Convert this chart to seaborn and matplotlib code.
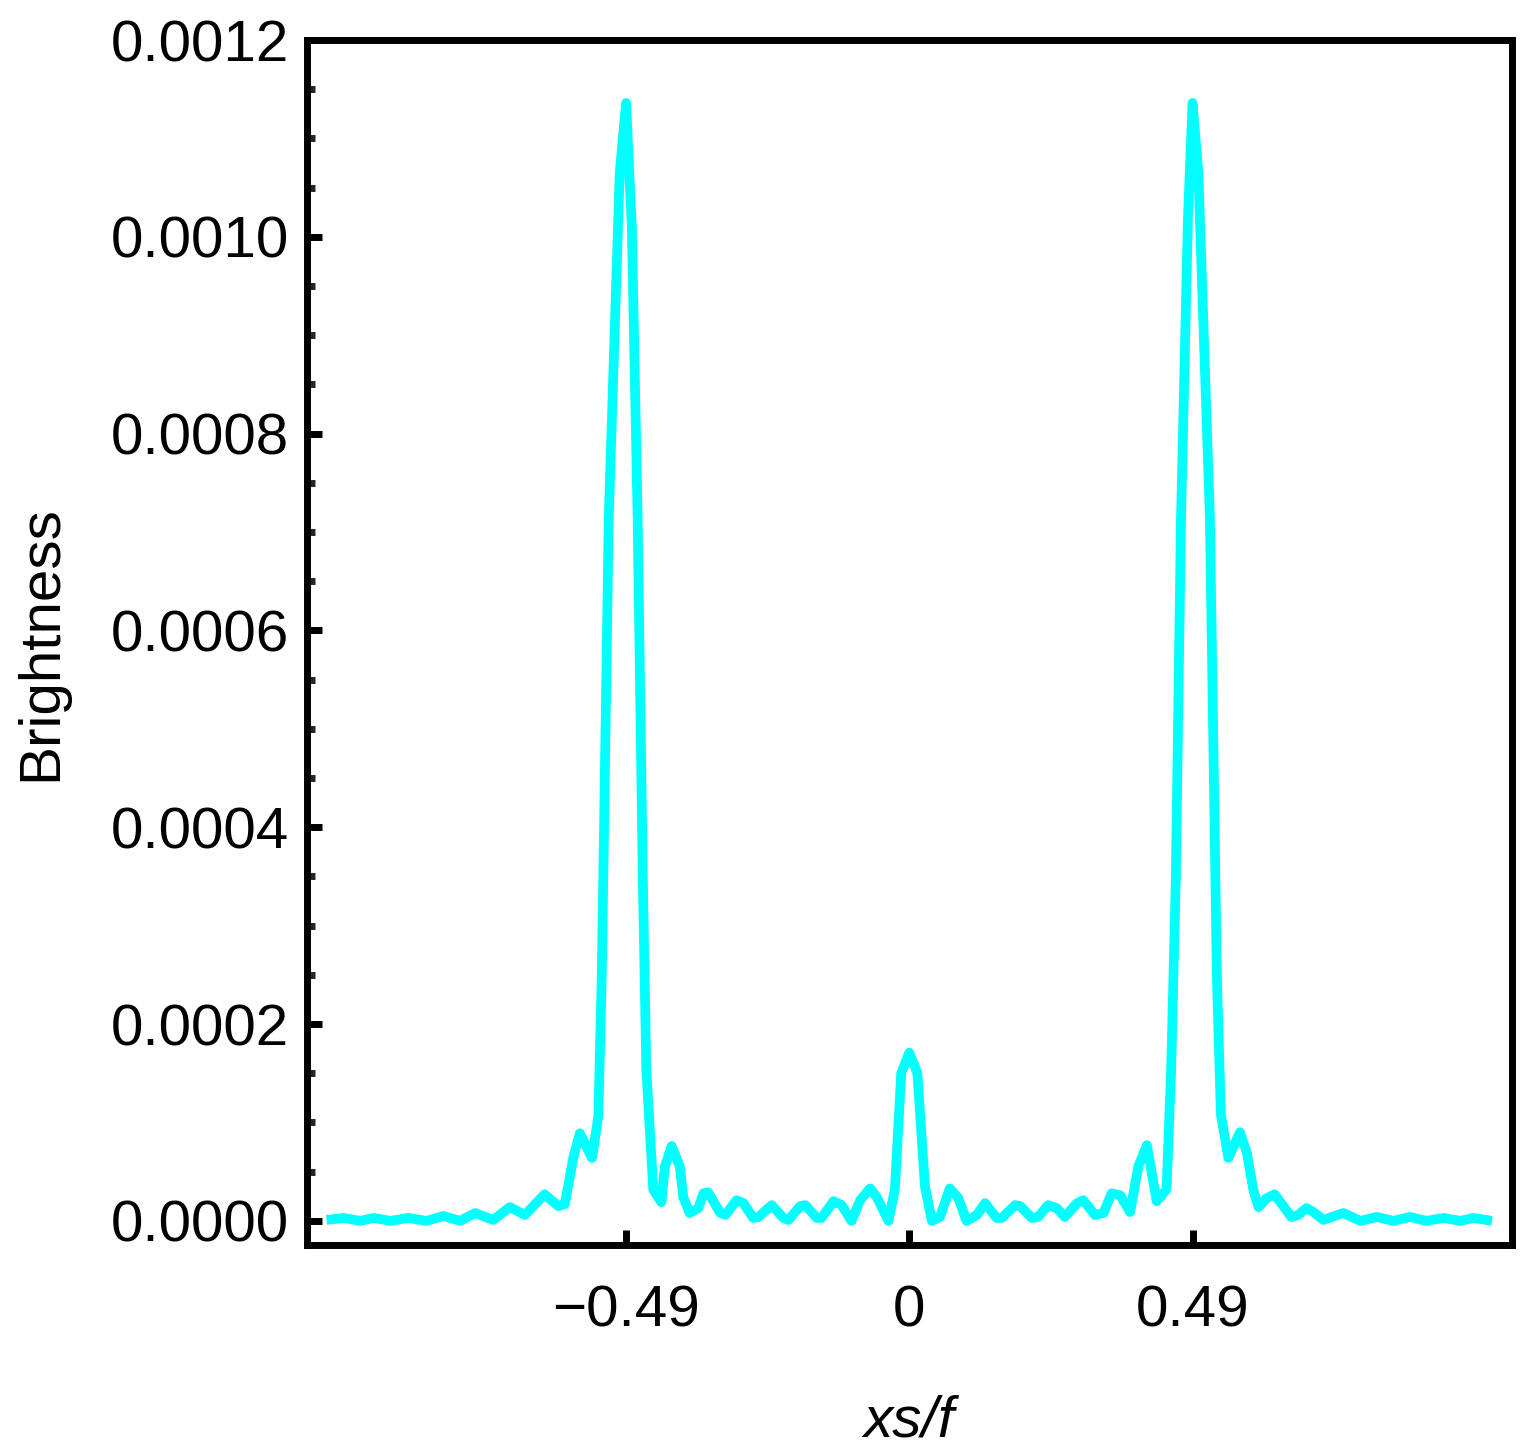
import numpy as np
import pandas as pd
import seaborn as sns
import matplotlib.pyplot as plt
from matplotlib.ticker import MultipleLocator, FormatStrFormatter, FixedLocator

# positions on the screen, in units of x s / f
xs_f = [
    -1.008, -0.979, -0.950, -0.927, -0.898, -0.867, -0.835, -0.806, -0.777, -0.751,
    -0.720, -0.691, -0.665, -0.631, -0.607, -0.596, -0.581, -0.570, -0.549, -0.538,
    -0.532, -0.520, -0.501, -0.490, -0.480, -0.470, -0.461, -0.455, -0.443, -0.429,
    -0.423, -0.411, -0.397, -0.391, -0.380, -0.365, -0.356, -0.348, -0.327, -0.318,
    -0.299, -0.287, -0.270, -0.261, -0.238, -0.218, -0.209, -0.189, -0.180, -0.160,
    -0.152, -0.131, -0.117, -0.100, -0.085, -0.068, -0.056, -0.036, -0.025, -0.014,
    0.000, 0.014, 0.027, 0.039, 0.053, 0.070, 0.085, 0.099, 0.117, 0.131,
    0.151, 0.160, 0.183, 0.192, 0.212, 0.223, 0.240, 0.255, 0.269, 0.290,
    0.301, 0.321, 0.336, 0.350, 0.365, 0.382, 0.396, 0.411, 0.428, 0.445,
    0.453, 0.461, 0.470, 0.482, 0.490, 0.500, 0.520, 0.532, 0.539, 0.552,
    0.572, 0.584, 0.595, 0.604, 0.618, 0.632, 0.647, 0.661, 0.673, 0.687,
    0.699, 0.716, 0.751, 0.780, 0.809, 0.837, 0.866, 0.895, 0.924, 0.953,
    0.976, 1.008,
]

# brightness, in units of 1e-4
brightness_e4 = [
    0.01, 0.03, 0.00, 0.03, 0.00, 0.03, 0.00, 0.05, 0.00, 0.08,
    0.01, 0.14, 0.06, 0.27, 0.15, 0.17, 0.65, 0.89, 0.64, 1.06,
    2.50, 7.14, 10.65, 11.36, 10.09, 7.14, 3.47, 1.54, 0.32, 0.19,
    0.55, 0.76, 0.55, 0.24, 0.08, 0.13, 0.28, 0.29, 0.08, 0.06,
    0.21, 0.18, 0.03, 0.04, 0.16, 0.03, 0.01, 0.15, 0.16, 0.03,
    0.03, 0.20, 0.16, 0.00, 0.21, 0.33, 0.24, 0.00, 0.32, 1.50,
    1.71, 1.50, 0.35, 0.00, 0.04, 0.33, 0.23, 0.00, 0.06, 0.18,
    0.03, 0.03, 0.16, 0.15, 0.03, 0.04, 0.16, 0.13, 0.04, 0.18,
    0.21, 0.06, 0.08, 0.28, 0.26, 0.09, 0.55, 0.77, 0.20, 0.32,
    1.54, 3.47, 7.14, 10.19, 11.36, 10.65, 7.14, 2.50, 1.08, 0.64,
    0.90, 0.69, 0.32, 0.14, 0.23, 0.27, 0.15, 0.04, 0.06, 0.13,
    0.09, 0.01, 0.08, 0.00, 0.04, 0.00, 0.04, 0.00, 0.03, 0.00,
    0.03, 0.00,
]

x_ticks = [-0.49, 0.0, 0.49]
x_tick_labels = ["\u22120.49", "0", "0.49"]

df = pd.DataFrame({"xs/f": xs_f, "Brightness": np.array(brightness_e4) * 1e-4})

sns.set_theme(style="ticks")
plt.rcParams["font.family"] = ["Liberation Sans", "DejaVu Sans"]

fig = plt.figure(figsize=(15.22, 14.55), dpi=100)
ax = fig.add_axes([0.2017, 0.144, 0.7915, 0.8285])

sns.lineplot(data=df, x="xs/f", y="Brightness", ax=ax, color="#00FFFF",
             linewidth=7, sort=False)
ax.lines[0].set_solid_capstyle("butt")

ax.set_xlim(-1.042, 1.042)
ax.set_ylim(-0.000025, 0.0012)

ax.xaxis.set_major_locator(FixedLocator(x_ticks))
ax.set_xticklabels(x_tick_labels)
ax.yaxis.set_major_locator(MultipleLocator(0.0002))
ax.yaxis.set_minor_locator(MultipleLocator(0.00005))
ax.yaxis.set_major_formatter(FormatStrFormatter("%.4f"))

for s in ax.spines.values():
    s.set_linewidth(5)
    s.set_color("black")

ax.tick_params(axis="both", which="major", direction="in", length=11, width=5,
               labelsize=42, colors="black")
ax.tick_params(axis="y", which="minor", direction="in", length=6, width=5)
ax.tick_params(axis="y", which="major", pad=13)
ax.tick_params(axis="x", which="major", pad=28)

ax.set_xlabel("xs/f", fontsize=42, fontstyle="italic", color="black")
ax.set_ylabel("Brightness", fontsize=42, color="black")
ax.xaxis.set_label_coords(0.5, -0.124)
ax.yaxis.set_label_coords(-0.198, 0.5)

plt.savefig("out.png", dpi=100, facecolor="white")
